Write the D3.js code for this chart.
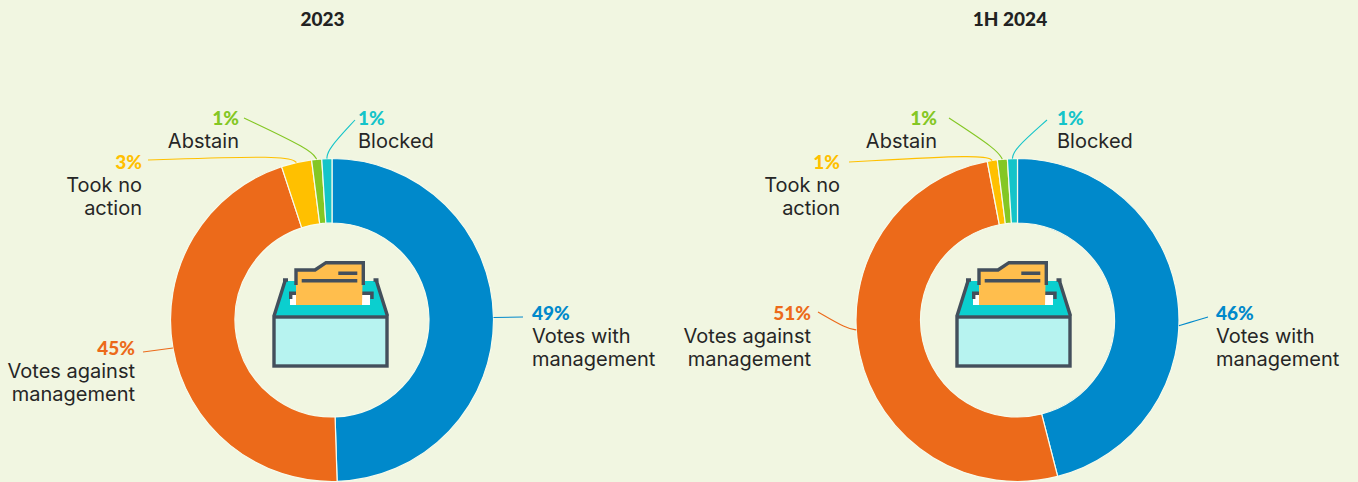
<!DOCTYPE html>
<html>
<head>
<meta charset="utf-8">
<script src="https://cdn.jsdelivr.net/npm/d3@7"></script>
<style>
  html, body { margin: 0; padding: 0; background: #f1f6e1; }
  svg { display: block; }
  text { font-family: Lato, "Open Sans", sans-serif; }
  .name { font-family: Inter, Lato, sans-serif; }
</style>
</head>
<body>
<svg id="chart" width="1358" height="482"></svg>
<script>
// Proxy vote outcomes by period
const categories = ["Votes with management", "Votes against management", "Took no action", "Abstain", "Blocked"];
const periods = ["2023", "1H 2024"];
const values2023 = [49, 45, 3, 1, 1];
const values1H2024 = [46, 51, 1, 1, 1];
const sliceColors = ["#0089cb", "#ec6a1a", "#ffc000", "#84c724", "#14c4c9"];
const labelLines = [["Votes with", "management"], ["Votes against", "management"], ["Took no", "action"], ["Abstain"], ["Blocked"]];

// Label layout per panel: text anchor, leader-line vertices in page pixels,
// and an optional angle (degrees clockwise from top) where the leader meets the ring
const layout2023 = [
  { x: 532, y: 320, anchor: "start", leader: [[523, 317]] },
  { x: 135, y: 355, anchor: "end", leader: [[143, 352]] },
  { x: 142, y: 169, anchor: "end", leader: [[290, 155], [148, 160]] },
  { x: 239, y: 125, anchor: "end", leader: [[312, 150], [244, 118]] },
  { x: 358, y: 125, anchor: "start", leader: [[327, 150], [355, 120]] }
];
const layout1H2024 = [
  { x: 1216, y: 320, anchor: "start", at: 92, leader: [[1188, 323], [1208, 317]] },
  { x: 811, y: 320, anchor: "end", at: 266.5, leader: [[847, 329], [818, 312]] },
  { x: 840, y: 169, anchor: "end", leader: [[988, 154], [849, 162]] },
  { x: 937, y: 125, anchor: "end", leader: [[998, 150], [949, 118]] },
  { x: 1057, y: 125, anchor: "start", leader: [[1013, 150], [1047, 120]] }
];

const panels = [
  { title: periods[0], values: values2023, cx: 332, titleX: 322.5, iconDx: 0, layout: layout2023 },
  { title: periods[1], values: values1H2024, cx: 1017.5, titleX: 1010, iconDx: 683, layout: layout1H2024 }
];

const cy = 320, outerR = 161.5, innerR = 97;
const svg = d3.select("#chart");
const pie = d3.pie().sort(null).value(d => d);
const arc = d3.arc().innerRadius(innerR).outerRadius(outerR);
const curve = d3.line().curve(d3.curveBundle.beta(0.95));

function drawIcon(g) {
  const ink = "#434f5c";
  const outline = { fill: "none", stroke: ink, "stroke-width": 3.4 };
  const put = (sel, attrs) => { Object.entries(attrs).forEach(([k, v]) => sel.attr(k, v)); return sel; };
  const path = pts => d3.line()(pts);

  put(g.append("path"), { d: path([[283.5, 281], [376.7, 281], [387, 316], [274, 316]]) + "Z", fill: "#0bcfcf" });
  put(g.append("rect"), { x: 290, y: 295, width: 80, height: 10, fill: "#ffffff" });
  put(g.append("rect"), { x: 274, y: 317, width: 113, height: 49, fill: "#b7f3f0", stroke: ink, "stroke-width": 3.4 });
  put(g.append("path"), { d: path([[285.5, 279.5], [274, 316]]) + path([[376, 279.5], [387.5, 316]]), ...outline });
  put(g.append("path"), { d: path([[283, 280], [288, 280]]) + path([[373.5, 280], [378.5, 280]]), ...outline });
  put(g.append("path"), { d: path([[290.7, 299], [290.7, 293.3], [300, 293.3]]) + path([[361.7, 293.3], [372, 293.3], [372, 299]]), ...outline });
  put(g.append("path"), { d: path([[296, 305], [296, 270], [315, 270], [326, 262.7], [363, 262.7], [362, 305]]) + "Z", fill: "#ffbe4d" });
  put(g.append("path"), { d: path([[296, 285], [296, 270], [315, 270], [326, 262.7], [363.3, 262.7], [363.3, 285]]), ...outline });
  put(g.append("path"), { d: path([[301.7, 280.7], [357.3, 280.7]]) + path([[338.3, 273.3], [357.3, 273.3]]), ...outline });
}

panels.forEach(panel => {
  const arcs = pie(panel.values);

  svg.append("text")
    .attr("x", panel.titleX).attr("y", 26)
    .attr("text-anchor", "middle")
    .attr("font-size", 19).attr("font-weight", 900).attr("fill", "#222")
    .text(panel.title);

  const donut = svg.append("g").attr("transform", `translate(${panel.cx},${cy})`);
  donut.selectAll("path").data(arcs).join("path")
    .attr("d", arc)
    .attr("fill", (d, i) => sliceColors[i])
    .attr("stroke", "#f7fbec")
    .attr("stroke-width", 1.2);

  arcs.forEach((d, i) => {
    const spec = panel.layout[i];
    const angle = spec.at !== undefined ? spec.at * Math.PI / 180 : (d.startAngle + d.endAngle) / 2;
    const [ex, ey] = d3.pointRadial(angle, outerR);
    const start = [panel.cx + ex, cy + ey];
    svg.append("path")
      .attr("d", curve([start, ...spec.leader]))
      .attr("fill", "none")
      .attr("stroke", sliceColors[i])
      .attr("stroke-width", 1.1);

    const label = svg.append("text")
      .attr("x", spec.x).attr("y", spec.y)
      .attr("text-anchor", spec.anchor);
    label.append("tspan")
      .attr("x", spec.x)
      .attr("font-size", 19).attr("font-weight", 900)
      .attr("fill", sliceColors[i])
      .text(`${panel.values[i]}%`);
    labelLines[i].forEach((line, k) => {
      label.append("tspan")
        .attr("class", "name")
        .attr("x", spec.x)
        .attr("dy", k === 0 ? 23 : 22.5)
        .attr("font-size", 20).attr("fill", "#262626")
        .text(line);
    });
  });

  drawIcon(svg.append("g").attr("transform", `translate(${panel.iconDx},0)`));
});
</script>
</body>
</html>
